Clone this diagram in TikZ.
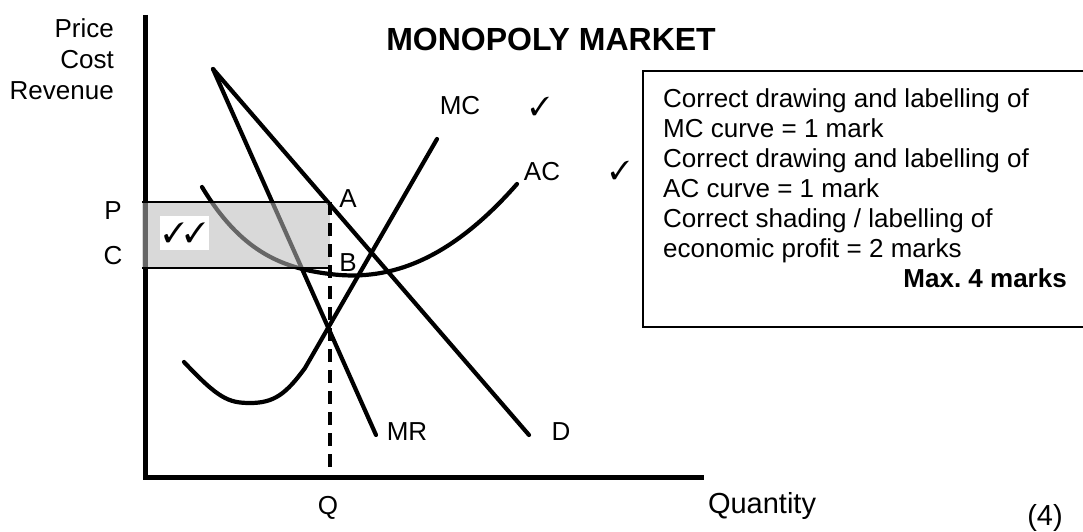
\documentclass[tikz,border=0pt]{standalone}
\usepackage{fontspec}
\setmainfont{Liberation Sans}
\usepackage{pifont}
\usetikzlibrary{positioning}
\frenchspacing
\definecolor{profit}{gray}{0.73}
\tikzset{
  axis/.style={line width=5pt},
  curve/.style={line width=4.2pt,line cap=round},
  rim/.style={line width=2.4pt},
  guide/.style={line width=3.6pt,dash pattern=on 13pt off 8pt},
  lbl/.style={font=\fontsize{26}{30}\selectfont,inner sep=0pt},
  tick/.style={font=\fontsize{26}{26}\selectfont,inner sep=0pt},
  big/.style={font=\fontsize{29}{34}\selectfont,inner sep=0pt}
}

\begin{document}
\begin{tikzpicture}[x=1pt,y=-1pt]
\useasboundingbox (0,0) rectangle (1083,532);
% axes
\coordinate (top) at (145,15);
\coordinate (origin) at (145,477);
\coordinate (xend) at (704,477);
\draw[axis] (top) -- (origin) -- (xend);
% demand and marginal revenue
\coordinate (apex) at (213,69);
\coordinate (dend) at (529,435);
\coordinate (mrend) at (376,435);
\draw[curve] (apex) -- (dend);
\draw[curve] (apex) -- (mrend);
% marginal cost
\draw[curve] (184,362) .. controls (218,398) and (228,403) .. (250,403)
  .. controls (274,403) and (286,394) .. (305,368) -- (437,139);
% average cost
\draw[curve] (202,187) .. controls (240,250) and (280,268) .. (330,274)
  .. controls (392,282) and (452,258) .. (517,184);
% economic profit
\coordinate (P) at (142,202);
\coordinate (A) at (330,202);
\coordinate (C) at (142,268);
\coordinate (B) at (330,268);
\coordinate (Q) at (330,477);
\fill[profit,opacity=0.55] (P) rectangle (B);
\draw[rim] (P) -- (A);
\draw[rim] (C) -- (B);
\draw[guide] (A) -- (Q);
\node[fill=white,minimum width=49pt,minimum height=34pt,inner sep=0pt,
  font=\fontsize{28}{28}\selectfont] (ticks) at (184.5,233) {\ding{51}\ding{51}};
% labels
\node[lbl,align=right,anchor=north east,font=\fontsize{26}{31}\selectfont] (yname) at (114,18)
  {Price\\Cost\\Revenue};
\node[font=\bfseries\fontsize{32}{36}\selectfont,inner sep=0pt] (title) at (551,39)
  {MONOPOLY MARKET};
\node[lbl] (plab) at (113,211) {P};
\node[lbl] (clab) at (113,256) {C};
\node[lbl] (alab) at (348,199) {A};
\node[lbl] (blab) at (348,263) {B};
\node[lbl] (mclab) at (460,106) {MC};
\node[tick] (mctick) at (540,106) {\ding{51}};
\node[lbl] (aclab) at (542,172) {AC};
\node[tick] (actick) at (620,170) {\ding{51}};
\node[lbl] (mrlab) at (407,432) {MR};
\node[lbl] (dlab) at (561,432) {D};
\node[lbl] (qlab) at (328,508) {Q};
\node[big] (xname) at (762,506) {Quantity};
\node[big] (part) at (1045,518) {(4)};
% marking guide
\draw[rim,line width=2pt] (1085,71) -- (643,71) -- (643,327) -- (1085,327);
\node[lbl,align=left,anchor=north west] (guide) at (663,88)
  {Correct drawing and labelling of\\MC curve = 1 mark\\
   Correct drawing and labelling of\\AC curve = 1 mark\\
   Correct shading / labelling of\\economic profit = 2 marks};
\node[lbl,font=\bfseries\fontsize{26}{30}\selectfont,anchor=base east] (total) at (1067,287)
  {Max. 4 marks};
\end{tikzpicture}
\end{document}
